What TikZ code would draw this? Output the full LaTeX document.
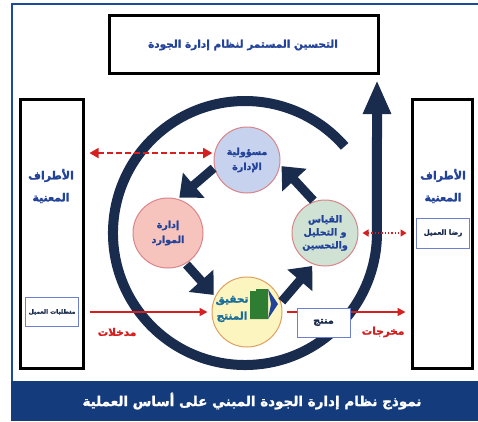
\documentclass[tikz,border=0pt]{standalone}
\usepackage{fontspec}
\newfontfamily\arabicfont[Script=Arabic, BoldFeatures={FakeBold=1.6}]{DejaVu Sans}
\TeXXeTstate=1
\usetikzlibrary{arrows.meta,calc}
\definecolor{navy}{HTML}{1A2C4E}
\definecolor{tblue}{HTML}{23439A}
\definecolor{ared}{HTML}{D42020}
\definecolor{banner}{HTML}{143C7C}
\definecolor{frame}{HTML}{1E4A9A}
\definecolor{cblue}{HTML}{C7D3EE}
\definecolor{cpink}{HTML}{F7C3BD}
\definecolor{cgreen}{HTML}{CFE2D4}
\definecolor{cyellow}{HTML}{FCF5BF}
\definecolor{cborder}{HTML}{D9858A}
\definecolor{yborder}{HTML}{E0A060}
\definecolor{gblock}{HTML}{2E7D32}
\definecolor{ytext}{HTML}{1A6F9A}
\definecolor{sboxb}{HTML}{6C7FD0}
\newcommand{\AR}[1]{{\arabicfont\bfseries\beginR #1\endR}}
\begin{document}
\begin{tikzpicture}[x=1pt,y=-1pt,
  bigbox/.style={draw=black, line width=3pt, fill=white, inner sep=0pt},
  smallbox/.style={draw=sboxb, line width=1pt, fill=white, inner sep=0pt, text=navy},
  circ/.style={circle, draw=cborder, line width=1pt, inner sep=0pt, minimum size=66pt, text=tblue, align=center, font=\fontsize{9.5}{15}\selectfont},
  lbl/.style={text=tblue, align=center, font=\fontsize{11}{22}\selectfont},
  blk/.style={draw=navy, line width=9pt, -{Triangle[length=19pt,width=32pt]}, shorten <=1pt, shorten >=2pt},
  redarr/.style={draw=ared, line width=1.6pt, -{Triangle[length=8pt,width=8pt]}},
  redlbl/.style={text=ared, font=\fontsize{10.5}{12}\selectfont}
]
\useasboundingbox (0,0) rectangle (478,421);
\fill[white] (0,0) rectangle (478,421);
% frame and banner
\draw[frame, line width=1.5pt] (12,421) -- (12,4) -- (478,4);
\fill[banner] (11,381) rectangle (478,421);
\node[text=white, font=\fontsize{13.5}{16}\selectfont] (title) at (252,401) {\AR{نموذج نظام إدارة الجودة المبني على أساس العملية}};

% boxes
\node[bigbox, minimum width=269pt, minimum height=58pt] (top) at (243.5,44) {};
\node[text=tblue, font=\fontsize{10.5}{12}\selectfont] (toptext) at (243,45) {\AR{التحسين المستمر لنظام إدارة الجودة}};
\node[bigbox, minimum width=63pt, minimum height=269pt] (left) at (51.5,233.5) {};
\node[bigbox, minimum width=60pt, minimum height=269pt] (right) at (442,233.5) {};
\node[lbl] (ltext) at (51,186) {\AR{الأطراف}\\\AR{المعنية}};
\node[lbl] (rtext) at (443,186) {\AR{الأطراف}\\\AR{المعنية}};
\node[smallbox, minimum width=53pt, minimum height=29pt, font=\fontsize{6}{7}\selectfont] (req) at (52,312) {\AR{متطلبات العميل}};
\node[smallbox, minimum width=53pt, minimum height=30pt, font=\fontsize{7}{8}\selectfont] (sat) at (443,233) {\AR{رضا العميل}};

% big circular arrow
\coordinate (arcstart) at (344.6,146.4);
\coordinate (arrowtip) at (377,80);
\draw[navy, line width=10pt, -{Triangle[length=34pt,width=26pt]}]
  (arcstart) arc[start angle=-41, end angle=-360, radius=132] -- (arrowtip);

% circles
\node[circ, fill=cblue] (blue) at (247,160) {\AR{مسؤولية}\\\AR{الإدارة}};
\node[circ, fill=cpink, minimum size=70pt] (pink) at (168,233) {\AR{إدارة}\\\AR{الموارد}};
\node[circ, fill=cgreen, font=\fontsize{9.5}{13}\selectfont] (green) at (325,233) {\AR{القياس}\\\AR{و التحليل}\\\AR{والتحسين}};
\node[circ, fill=cyellow, draw=yborder, minimum size=70pt] (yellow) at (247,312) {};
\node[text=ytext, align=center, font=\fontsize{10.5}{17}\selectfont] (ytxt) at (232,309) {\AR{تحقيق}\\\AR{المنتج}};
\fill[gblock] (250,291) -- (256,291) -- (256,289) -- (268,289) -- (268,319) -- (250,319) -- cycle;
\fill[tblue] (268,289) -- (278,304) -- (268,319) -- (271,304) -- cycle;

% block arrows
\draw[blk] (blue.193) -- (pink.74);
\draw[blk] (pink.-60) -- (yellow.154);
\draw[blk] (yellow.16) -- (green.250);
\draw[blk] (green.109) -- (blue.-8);

% red connectors
\draw[draw=ared, line width=1.6pt, dash pattern=on 6pt off 3pt, {Triangle[length=9pt,width=10pt]}-{Triangle[length=9pt,width=10pt]}, shorten <=5pt, shorten >=2pt]
  (left.east |- blue.168) -- (blue.168);
\draw[draw=ared, line width=1.3pt, dotted, {Triangle[length=6pt,width=7pt]}-{Triangle[length=6pt,width=7pt]}, shorten <=4pt, shorten >=4pt]
  (green.east) -- (right.west |- green.east);
\draw[redarr, shorten <=5pt, shorten >=4pt] (left.east |- yellow.west) -- (yellow.west);
\node[smallbox, minimum width=53pt, minimum height=29pt, font=\fontsize{9.5}{10}\selectfont] (prod) at (323.5,322.5) {\AR{منتج}};
\draw[draw=ared, line width=1.6pt, shorten <=4pt] (yellow.east) -- (prod.west |- yellow.east);
\draw[redarr, shorten >=5pt] (prod.east |- yellow.east) -- (right.west |- yellow.east);
\node[redlbl] (inlbl) at (117,332) {\AR{مدخلات}};
\node[redlbl] (outlbl) at (383,332) {\AR{مخرجات}};
\end{tikzpicture}
\end{document}
